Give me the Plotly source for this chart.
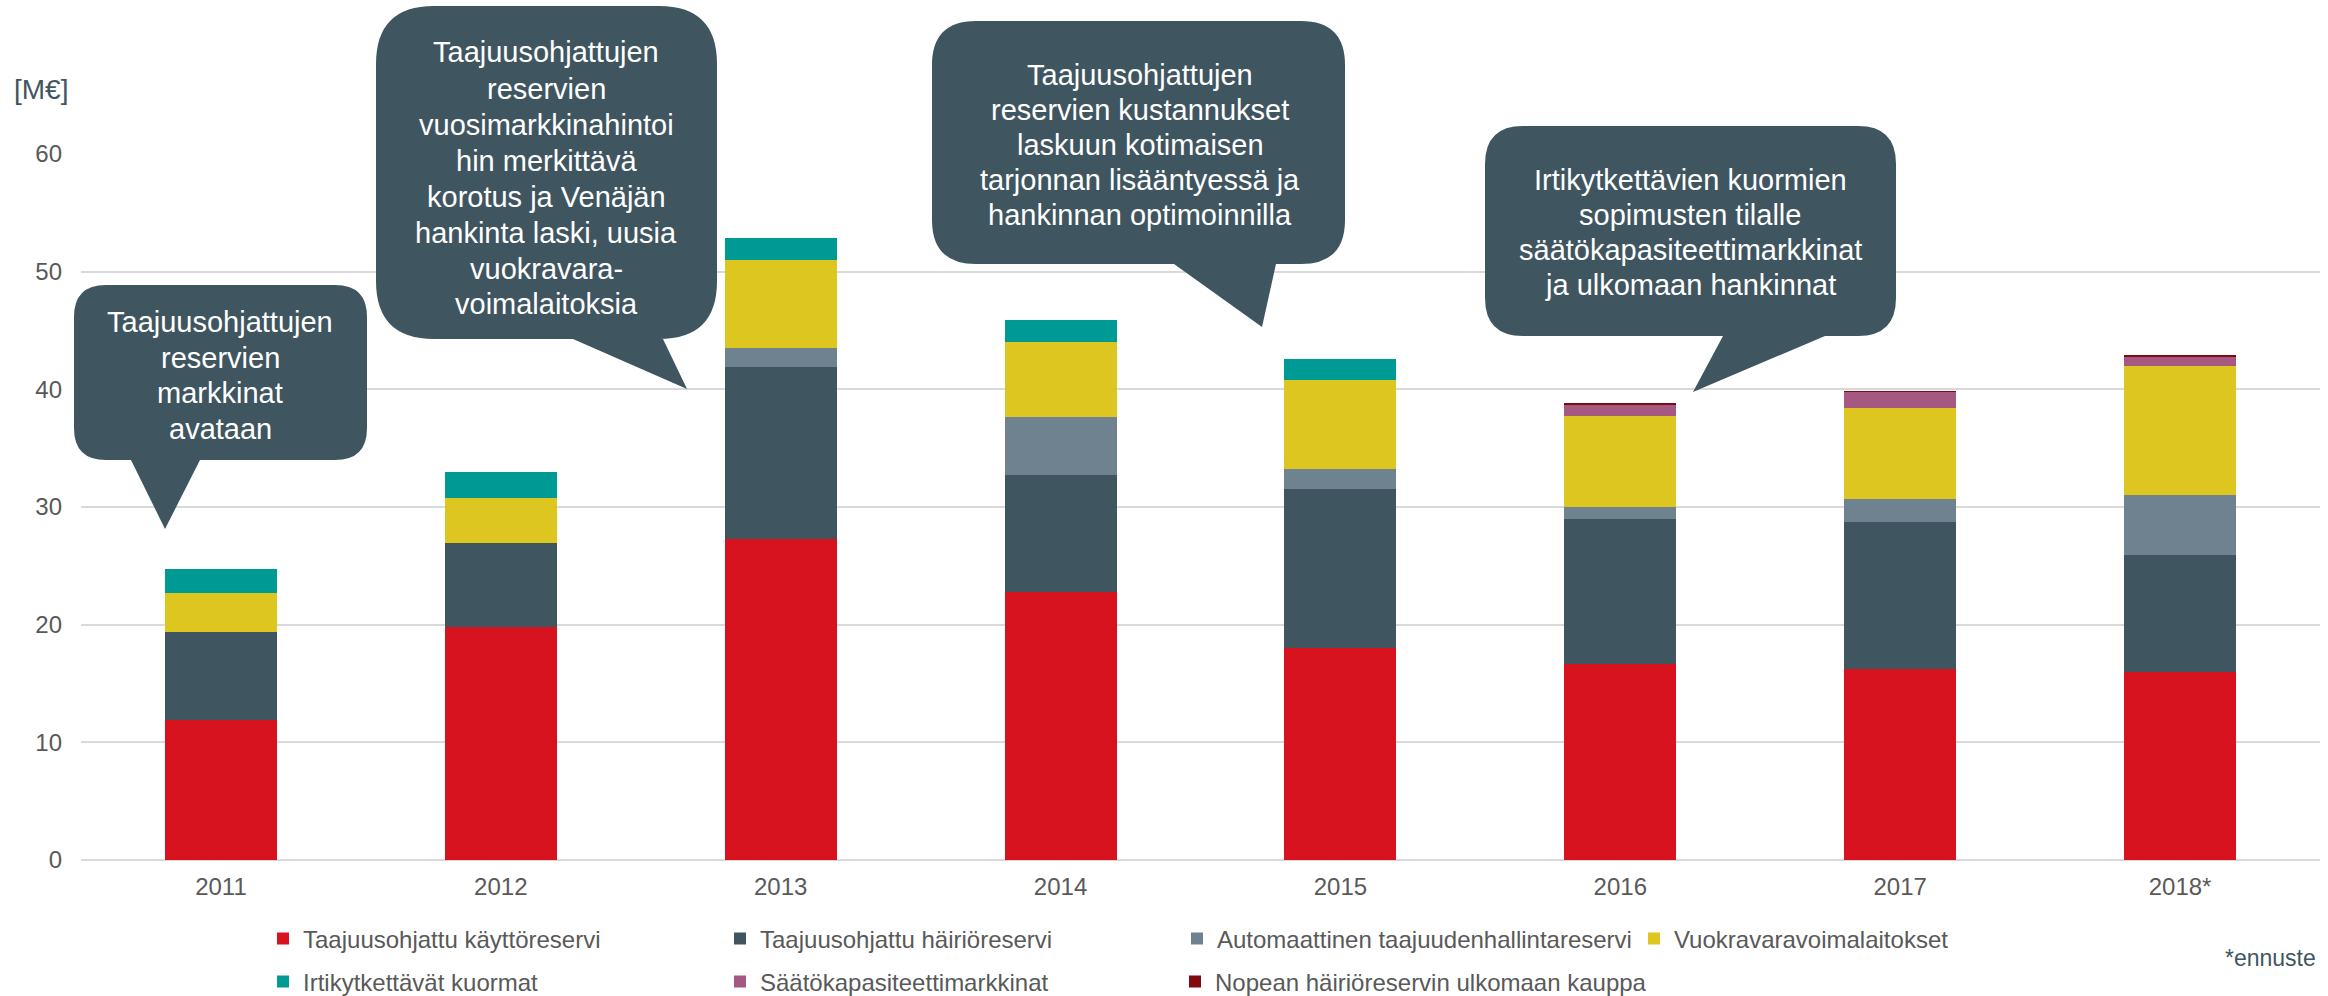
import plotly.graph_objects as go

# data, M€ per year
years = ["2011", "2012", "2013", "2014", "2015", "2016", "2017", "2018*"]
kayttoreservi = [11.9, 19.8, 27.3, 22.8, 18.0, 16.7, 16.2, 16.0]
hairioreservi = [7.5, 7.15, 14.6, 9.9, 13.55, 12.3, 12.5, 9.95]
automaattinen = [0, 0, 1.65, 4.95, 1.7, 1.0, 2.0, 5.05]
vuokravara = [3.3, 3.8, 7.4, 6.4, 7.55, 7.7, 7.7, 11.0]
irtikytkettavat = [2.0, 2.2, 1.95, 1.85, 1.8, 0, 0, 0]
saatokapasiteetti = [0, 0, 0, 0, 0, 0.93, 1.38, 0.72]
nopea = [0, 0, 0, 0, 0, 0.23, 0.06, 0.23]

series = [
    ("Taajuusohjattu käyttöreservi", kayttoreservi, "#D7131F", "legend"),
    ("Taajuusohjattu häiriöreservi", hairioreservi, "#3F5661", "legend"),
    ("Automaattinen taajuudenhallintareservi", automaattinen, "#6E838F", "legend"),
    ("Vuokravaravoimalaitokset", vuokravara, "#DEC620", "legend"),
    ("Irtikytkettävät kuormat", irtikytkettavat, "#009A95", "legend2"),
    ("Säätökapasiteettimarkkinat", saatokapasiteetti, "#A45882", "legend2"),
    ("Nopean häiriöreservin ulkomaan kauppa", nopea, "#7F0A10", "legend3"),
]

callouts = [
    ["Taajuusohjattujen", "reservien", "markkinat", "avataan"],
    ["Taajuusohjattujen", "reservien", "vuosimarkkinahintoi", "hin merkittävä",
     "korotus ja Venäjän", "hankinta laski, uusia", "vuokravara-", "voimalaitoksia"],
    ["Taajuusohjattujen", "reservien kustannukset", "laskuun kotimaisen",
     "tarjonnan lisääntyessä ja", "hankinnan optimoinnilla"],
    ["Irtikytkettävien kuormien", "sopimusten tilalle",
     "säätökapasiteettimarkkinat", "ja ulkomaan hankinnat"],
]

W, H = 2328, 996
ML, MR, MT, MB = 81, 8, 154, 136
PW, PH = W - ML - MR, H - MT - MB
FONT = "Liberation Sans, Arial, sans-serif"
SLATE = "#3F5661"


def px(x, y):
    return (x - ML) / PW, (H - MB - y) / PH


def bubble(x0, y0, x1, y1, r, bl, br, tip):
    pts = []

    def P(cmd, *xy):
        s = cmd
        for i in range(0, len(xy), 2):
            a, b = px(xy[i], xy[i + 1])
            s += f"{a:.5f},{b:.5f} "
        pts.append(s)

    P("M", x0 + r, y0)
    P("L", x1 - r, y0)
    P("Q", x1, y0, x1, y0 + r)
    P("L", x1, y1 - r)
    P("Q", x1, y1, x1 - r, y1)
    P("L", br, y1)
    P("L", tip[0], tip[1])
    P("L", bl, y1)
    P("L", x0 + r, y1)
    P("Q", x0, y1, x0, y1 - r)
    P("L", x0, y0 + r)
    P("Q", x0, y0, x0 + r, y0)
    return "".join(pts) + "Z"


fig = go.Figure()
for name, vals, color, leg in series:
    fig.add_trace(go.Bar(x=years, y=vals, name=name, marker_color=color,
                         marker_line_width=0, legend=leg))

# callout boxes (pixel geometry)
boxes = [
    (74, 285, 367, 460, 32, 131, 200, (165, 529)),
    (376, 6, 717, 339, 58, 573, 663, (687, 389)),
    (932, 21, 1345, 264, 44, 1174, 1276, (1262, 327)),
    (1485, 126, 1896, 336, 38, 1723, 1825, (1693, 392)),
]
for b in boxes:
    fig.add_shape(type="path", xref="paper", yref="paper",
                  path=bubble(*b), fillcolor=SLATE, line_width=0, layer="above")

line_y = [
    [322, 358, 393, 429],
    [52, 89, 125, 161, 197, 233, 269, 304],
    [75, 110, 145, 180, 215],
    [180, 215, 250, 285],
]
centers = [220, 546, 1140, 1690]
for lines, ys, cx in zip(callouts, line_y, centers):
    for t, yy in zip(lines, ys):
        ax, ay = px(cx, yy)
        fig.add_annotation(text=t, x=ax, y=ay, xref="paper", yref="paper",
                           showarrow=False, xanchor="center", yanchor="middle",
                           font=dict(family=FONT, size=29, color="white"))

ax, ay = px(12, 89)
fig.add_annotation(text="[M€]", x=ax, y=ay, xref="paper", yref="paper",
                   showarrow=False, xanchor="left", yanchor="middle",
                   font=dict(family=FONT, size=28, color=SLATE))
ax, ay = px(2318, 958)
fig.add_annotation(text="*ennuste", x=ax, y=ay, xref="paper", yref="paper",
                   showarrow=False, xanchor="right", yanchor="middle",
                   font=dict(family=FONT, size=23, color=SLATE))

lx, ly1 = px(263, 939)
_, ly2 = px(263, 982)
lx3, _ = px(263 + 2 * 456, 982)
legfont = dict(family=FONT, size=24, color="#595959")
legbase = dict(orientation="h", xanchor="left", yanchor="middle",
               traceorder="normal", font=legfont, bgcolor="rgba(0,0,0,0)")

fig.update_layout(
    width=W, height=H,
    margin=dict(l=ML, r=MR, t=MT, b=MB, autoexpand=False),
    barmode="stack", bargap=0.6,
    plot_bgcolor="white", paper_bgcolor="white",
    font=dict(family=FONT),
    legend=dict(legbase, x=lx, y=ly1, entrywidth=412, entrywidthmode="pixels"),
    legend2=dict(legbase, x=lx, y=ly2, entrywidth=412, entrywidthmode="pixels"),
    legend3=dict(legbase, x=lx3, y=ly2),
    xaxis=dict(tickfont=dict(family=FONT, size=24, color="#595959"),
               showgrid=False, showline=False, ticklabelstandoff=10),
    yaxis=dict(range=[0, 60], dtick=10, showgrid=True, gridcolor="#D9D9D9",
               gridwidth=2, zeroline=True, zerolinecolor="#D9D9D9", zerolinewidth=2,
               tickfont=dict(family=FONT, size=24, color="#595959"),
               ticklabelstandoff=18),
)

# drop the page's default body margin so the figure sits at the window corner
fig.write_html("out.html", config={"displayModeBar": False},
               post_script="document.body.style.margin='0';")
